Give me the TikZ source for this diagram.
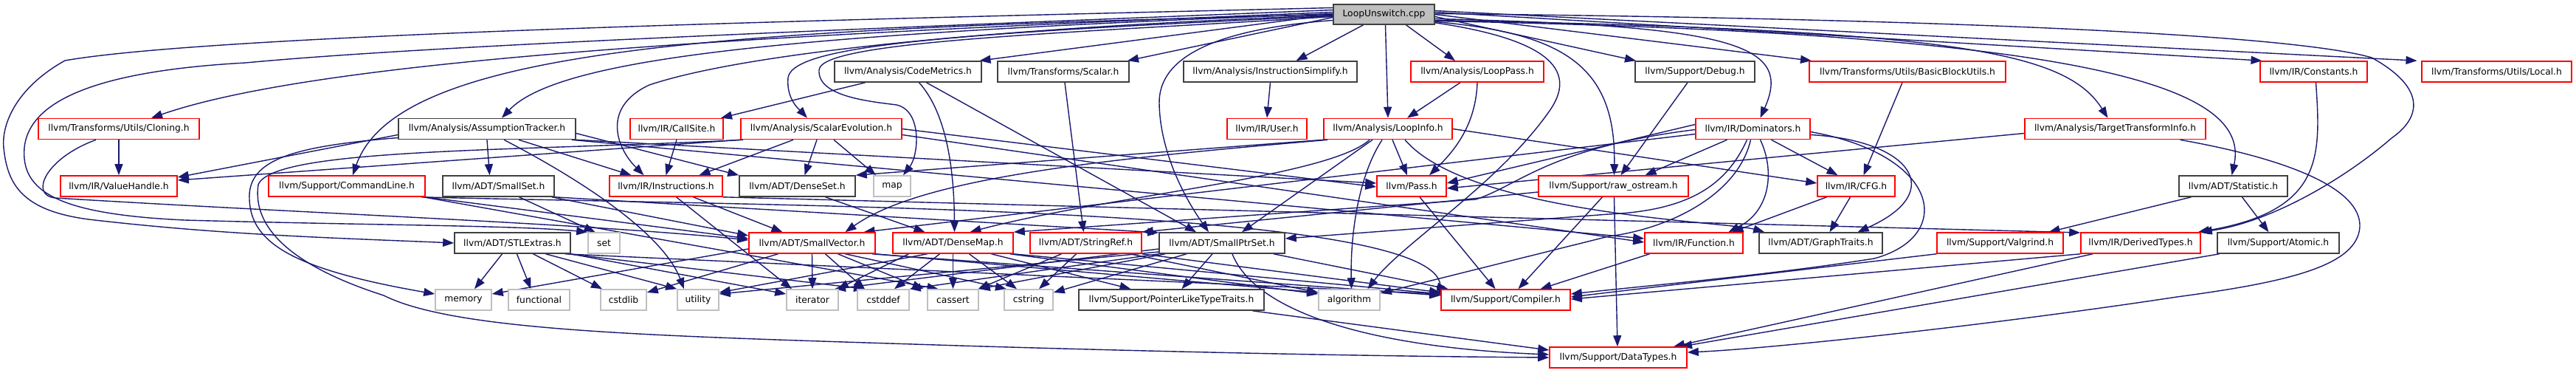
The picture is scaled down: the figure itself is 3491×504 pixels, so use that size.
\documentclass[tikz,border=0pt]{standalone}
\usepackage{fontspec}
\usetikzlibrary{arrows.meta}
\newfontfamily\dejavu{DejaVu Sans}
\newcommand\hdrfont{\dejavu\fontsize{12.3}{14}\selectfont}
\definecolor{edgeblue}{HTML}{191970}
\definecolor{boxgray}{HTML}{BFBFBF}
\definecolor{boxdark}{HTML}{404040}
\pgfdeclarelayer{background}
\pgfsetlayers{background,main}
\begin{document}
\begin{tikzpicture}[x=1pt,y=-1pt,
  hdr/.style={draw=red, fill=white, line width=1.6pt, minimum height=28pt, inner sep=0pt, font=\hdrfont},
  blk/.style={hdr, draw=boxdark},
  sys/.style={hdr, draw=boxgray},
  root/.style={hdr, draw=boxdark, fill=boxgray, minimum height=27pt},
  dep/.style={draw=edgeblue, line width=1.4pt, -{Triangle[length=15pt,width=11pt]}}]
\useasboundingbox (0,0) rectangle (3491,504);

\node[root, minimum width=137pt] (main) at (1875.5,19.5) {LoopUnswitch.cpp};

\node[blk, minimum width=199pt] (codemetrics) at (1230.5,97) {llvm/Analysis/CodeMetrics.h};
\node[blk, minimum width=178pt] (scalar) at (1441,97) {llvm/Transforms/Scalar.h};
\node[blk, minimum width=235pt] (instsimp) at (1721.5,97) {llvm/Analysis/InstructionSimplify.h};
\node[hdr, minimum width=180pt] (looppass) at (2002,97) {llvm/Analysis/LoopPass.h};
\node[blk, minimum width=162pt] (debug) at (2297,97) {llvm/Support/Debug.h};
\node[hdr, minimum width=266pt] (bbutils) at (2585,97) {llvm/Transforms/Utils/BasicBlockUtils.h};
\node[hdr, minimum width=145pt] (constants) at (3135.5,97) {llvm/IR/Constants.h};
\node[hdr, minimum width=203pt] (local) at (3383.5,97) {llvm/Transforms/Utils/Local.h};

\node[hdr, minimum width=218pt] (cloning) at (161,174.5) {llvm/Transforms/Utils/Cloning.h};
\node[blk, minimum width=240pt] (assump) at (660,174.5) {llvm/Analysis/AssumptionTracker.h};
\node[hdr, minimum width=126pt] (callsite) at (917,174.5) {llvm/IR/CallSite.h};
\node[hdr, minimum width=218pt] (scev) at (1113,174.5) {llvm/Analysis/ScalarEvolution.h};
\node[hdr, minimum width=108pt] (user) at (1717,174.5) {llvm/IR/User.h};
\node[hdr, minimum width=174pt] (loopinfo) at (1881,174.5) {llvm/Analysis/LoopInfo.h};
\node[hdr, minimum width=155pt] (dominators) at (2375.5,174.5) {llvm/IR/Dominators.h};
\node[hdr, minimum width=245pt] (tti) at (2866.5,174.5) {llvm/Analysis/TargetTransformInfo.h};

\node[hdr, minimum width=158pt] (valuehandle) at (161,252) {llvm/IR/ValueHandle.h};
\node[hdr, minimum width=212pt] (cmdline) at (470,252) {llvm/Support/CommandLine.h};
\node[blk, minimum width=151pt] (smallset) at (675.5,252) {llvm/ADT/SmallSet.h};
\node[hdr, minimum width=153pt] (instructions) at (902.5,252) {llvm/IR/Instructions.h};
\node[blk, minimum width=157pt] (denseset) at (1080.5,252) {llvm/ADT/DenseSet.h};
\node[sys, minimum width=50pt] (map) at (1209,252) {map};
\node[hdr, minimum width=94pt] (pass) at (1913,252) {llvm/Pass.h};
\node[hdr, minimum width=203pt] (rawostream) at (2186.5,252) {llvm/Support/raw\_ostream.h};
\node[hdr, minimum width=105pt] (cfg) at (2515.5,252) {llvm/IR/CFG.h};
\node[blk, minimum width=147pt] (statistic) at (3026.5,252) {llvm/ADT/Statistic.h};

\node[blk, minimum width=157pt] (stlextras) at (694.5,329) {llvm/ADT/STLExtras.h};
\node[sys, minimum width=43pt] (set) at (818.5,329) {set};
\node[hdr, minimum width=171pt] (smallvector) at (1100.5,329) {llvm/ADT/SmallVector.h};
\node[hdr, minimum width=163pt] (densemap) at (1291.5,329) {llvm/ADT/DenseMap.h};
\node[hdr, minimum width=151pt] (stringref) at (1471.5,329) {llvm/ADT/StringRef.h};
\node[blk, minimum width=170pt] (smallptrset) at (1656,329) {llvm/ADT/SmallPtrSet.h};
\node[hdr, minimum width=133pt] (function) at (2295.5,329) {llvm/IR/Function.h};
\node[blk, minimum width=167pt] (graphtraits) at (2467.5,329) {llvm/ADT/GraphTraits.h};
\node[hdr, minimum width=171pt] (valgrind) at (2710.5,329) {llvm/Support/Valgrind.h};
\node[hdr, minimum width=162pt] (derivedtypes) at (2901,329) {llvm/IR/DerivedTypes.h};
\node[blk, minimum width=165pt] (atomic) at (3087.5,329) {llvm/Support/Atomic.h};

\node[sys, minimum width=76pt] (memory) at (628,406) {memory};
\node[sys, minimum width=83pt] (functional) at (730.5,406) {functional};
\node[sys, minimum width=62pt] (cstdlib) at (845,406) {cstdlib};
\node[sys, minimum width=56pt] (utility) at (946,406) {utility};
\node[sys, minimum width=70pt] (iterator) at (1101,406) {iterator};
\node[sys, minimum width=70pt] (cstddef) at (1197,406) {cstddef};
\node[sys, minimum width=69pt] (cassert) at (1291.5,406) {cassert};
\node[sys, minimum width=66pt] (cstring) at (1394,406) {cstring};
\node[blk, minimum width=251pt] (ptrtraits) at (1587.5,406) {llvm/Support/PointerLikeTypeTraits.h};
\node[sys, minimum width=83pt] (algorithm) at (1828.5,406) {algorithm};
\node[hdr, minimum width=175pt] (compiler) at (2040.5,406) {llvm/Support/Compiler.h};

\node[hdr, minimum width=186pt] (datatypes) at (2193,484) {llvm/Support/DataTypes.h};

\begin{pgfonlayer}{background}
\fill[white] (0,0) rectangle (3491,504);
\draw[dep] (main.west) -- ([xshift=97pt]codemetrics.north);
\draw[dep] ([yshift=-4pt]main.west) -- ([xshift=87pt]scalar.north);
\draw[dep] ([xshift=-28pt]main.south) -- ([xshift=35pt]instsimp.north);
\draw[dep] ([xshift=2pt]main.south) -- (loopinfo.north);
\draw[dep] ([xshift=30pt]main.south) -- ([xshift=-30pt]looppass.north);
\draw[dep] ([yshift=-3pt]main.east) -- ([xshift=-80pt]debug.north);
\draw[dep] (main.east) -- ([xshift=-130pt]bbutils.north);
\draw[dep] ([yshift=3pt]main.east) -- ([xshift=-70pt]constants.north);
\draw[dep] ([yshift=5pt]main.east) -- ([xshift=-108pt]local.north);
\draw[dep] ([yshift=-6pt]main.east) .. controls (2350,35) and (2430,60) .. ([xshift=10pt]dominators.north);
\draw[dep] ([yshift=-8pt]main.east) .. controls (2650,40) and (2800,70) .. ([xshift=-10pt]tti.north);
\draw[dep] ([yshift=-9pt]main.east) .. controls (2850,45) and (3050,120) .. ([xshift=-2pt]statistic.north);
\draw[dep] ([yshift=1pt]main.east) .. controls (2600,25) and (3100,45) .. (3214,78) .. controls (3290,120) and (3280,160) .. (3241,187) .. controls (3180,240) and (3080,300) .. (derivedtypes.north east);
\draw[dep] ([yshift=-10pt]main.east) .. controls (2120,45) and (2190,90) .. ([xshift=1pt]rawostream.north);
\draw[dep] ([yshift=3pt]main.south east) .. controls (2110,55) and (2135,100) .. (2100,150) .. controls (2030,250) and (1900,330) .. ([xshift=25pt]algorithm.north);
\draw[dep] ([yshift=9pt]main.west) .. controls (1200,25) and (300,45) .. (88,82) .. controls (20,120) and (2,170) .. (5,200) .. controls (10,250) and (30,285) .. (120,297) .. controls (300,318) and (450,322) .. (stlextras.west);
\draw[dep] ([yshift=6pt]main.west) .. controls (1200,38) and (600,60) .. (333,85) .. controls (150,95) and (40,130) .. (33,200) .. controls (28,260) and (80,290) .. (250,298) .. controls (500,305) and (700,305) .. (set.north west);
\draw[dep] ([yshift=3pt]main.west) .. controls (1100,45) and (450,75) .. ([xshift=44pt]cloning.north);
\draw[dep] ([yshift=1pt]main.west) .. controls (1100,45) and (760,75) .. ([xshift=20pt]assump.north);
\draw[dep] (main.west) .. controls (1000,40) and (540,60) .. ([xshift=8pt]cmdline.north);
\draw[dep] ([yshift=-1pt]main.west) .. controls (1300,40) and (1000,75) .. (880,115) .. controls (815,145) and (835,200) .. ([xshift=-30pt]instructions.north);
\draw[dep] ([yshift=-2pt]main.west) .. controls (1300,45) and (1075,60) .. (1068,105) .. controls (1065,135) and (1085,150) .. ([xshift=-19pt]scev.north);
\draw[dep] ([yshift=-3pt]main.west) .. controls (1450,45) and (1110,55) .. (1110,95) .. controls (1108,130) and (1175,137) .. (1215,142) .. controls (1250,150) and (1245,210) .. ([xshift=15pt]map.north);
\draw[dep] ([yshift=-8pt]main.west) .. controls (1640,40) and (1570,80) .. (1571,140) .. controls (1572,200) and (1600,260) .. ([xshift=-18pt]smallptrset.north);

\draw[dep] ([xshift=-58pt]codemetrics.south) -- ([xshift=60pt]callsite.north);
\draw[dep] ([xshift=15pt]codemetrics.south) .. controls (1280,150) and (1293,220) .. ([xshift=2pt]densemap.north);
\draw[dep] ([xshift=25pt]codemetrics.south) -- ([xshift=-35pt]smallptrset.north);
\draw[dep] ([xshift=2pt]scalar.south) -- ([xshift=-3pt]stringref.north);
\draw[dep] (instsimp.south) -- (user.north);
\draw[dep] ([xshift=-23pt]looppass.south) -- ([xshift=26pt]loopinfo.north);
\draw[dep] (looppass.south) .. controls (2000,170) and (1970,205) .. ([xshift=24pt]pass.north);
\draw[dep] ([xshift=-10pt]debug.south) -- ([xshift=10pt]rawostream.north);
\draw[dep] ([xshift=-7pt]bbutils.south) -- ([xshift=10pt]cfg.north);
\draw[dep] ([xshift=3pt]constants.south) .. controls (3145,210) and (3150,285) .. ([xshift=-4pt]derivedtypes.north east);

\draw[dep] (cloning.south) -- (valuehandle.north);
\draw[dep] ([xshift=-31pt]cloning.south) .. controls (60,215) and (40,265) .. (75,268) .. controls (400,288) and (800,303) .. ([yshift=4pt]smallvector.west);
\draw[dep] (assump.south) -- ([xshift=-12pt]smallset.north);
\draw[dep] ([xshift=43pt]assump.south) -- ([xshift=-47pt]instructions.north);
\draw[dep] ([yshift=-8pt]assump.west) -- ([yshift=12pt]valuehandle.east);
\draw[dep] ([yshift=-12pt]assump.west) .. controls (400,198) and (335,215) .. (338,270) .. controls (340,330) and (400,365) .. ([yshift=8pt]memory.west);
\draw[dep] ([xshift=23pt]assump.south) .. controls (800,250) and (900,320) .. ([xshift=-19pt]utility.north);
\draw[dep] ([yshift=-6pt]assump.east) -- (denseset.north west);
\draw[dep] (assump.south east) -- ([yshift=4pt]pass.west);
\draw[dep] ([xshift=-6pt]assump.south east) -- ([yshift=6pt]function.west);
\draw[dep] (callsite.south) -- (instructions.north);
\draw[dep] ([xshift=-38pt]scev.south) -- ([xshift=45pt]instructions.north);
\draw[dep] ([xshift=-6pt]scev.south) -- ([xshift=10pt]denseset.north);
\draw[dep] ([xshift=17pt]scev.south) -- ([xshift=-22pt]map.north);
\draw[dep] (scev.south west) -- ([yshift=8pt]valuehandle.east);
\draw[dep] ([xshift=4pt]scev.south west) .. controls (700,205) and (370,200) .. (350,250) .. controls (340,320) and (420,368) .. (520,400) .. controls (620,450) and (900,455) .. (1300,468) .. controls (1700,480) and (1950,483) .. (datatypes.west);
\draw[dep] (scev.east) -- ([yshift=-1pt]pass.west);
\draw[dep] ([yshift=-8pt]scev.east) -- ([yshift=1pt]function.west);

\draw[dep] ([xshift=6pt]loopinfo.south) -- ([xshift=-6pt]pass.north);
\draw[dep] ([xshift=-8pt]loopinfo.south) .. controls (1840,240) and (1830,320) .. ([xshift=3pt]algorithm.north);
\draw[dep] ([xshift=-21pt]loopinfo.south) -- ([xshift=27pt]smallptrset.north);
\draw[dep] ([xshift=-25pt]loopinfo.south) .. controls (1800,240) and (1500,265) .. ([xshift=23pt]densemap.north);
\draw[dep] ([xshift=6pt]loopinfo.south west) .. controls (1500,215) and (1250,240) .. ([xshift=45pt]smallvector.north);
\draw[dep] (loopinfo.south west) -- (denseset.north east);
\draw[dep] ([xshift=23pt]loopinfo.south) .. controls (1990,290) and (2340,300) .. ([xshift=8pt]graphtraits.north west);
\draw[dep] (loopinfo.east) -- ([yshift=4pt]cfg.west);

\draw[dep] ([xshift=-35pt]dominators.south) -- ([xshift=43pt]rawostream.north);
\draw[dep] ([xshift=25pt]dominators.south) -- ([xshift=-25pt]cfg.north);
\draw[dep] ([xshift=10pt]dominators.south) .. controls (2405,230) and (2400,285) .. ([xshift=47pt]function.north);
\draw[dep] ([xshift=-8pt]dominators.south) .. controls (2340,250) and (2290,285) .. (2180,290) -- ([yshift=6pt]smallptrset.east);
\draw[dep] ([xshift=-3pt]dominators.south) .. controls (2355,265) and (2260,310) .. (2180,320) -- ([yshift=9pt]algorithm.east);
\draw[dep] ([yshift=6pt]dominators.west) -- ([yshift=4pt]pass.east);
\draw[dep] ([yshift=-1pt]dominators.west) .. controls (2100,200) and (2060,250) .. (2000,270) -- (densemap.north east);
\draw[dep] ([yshift=-7pt]dominators.west) -- ([xshift=70pt]smallvector.north);
\draw[dep] ([yshift=-8pt]dominators.east) .. controls (2590,190) and (2640,260) .. ([xshift=50pt]graphtraits.north);
\draw[dep] ([yshift=-4pt]dominators.east) .. controls (2630,210) and (2650,320) .. (2540,350) .. controls (2400,372) and (2250,385) .. ([yshift=8pt]compiler.east);
\draw[dep] ([xshift=-40pt]cfg.south) -- ([xshift=52pt]function.north);
\draw[dep] ([xshift=-8pt]cfg.south) -- ([xshift=12pt]graphtraits.north);
\draw[dep] ([yshift=-6pt]tti.west) -- ([yshift=-3pt]pass.east);
\draw[dep] ([xshift=88pt]tti.south) .. controls (3100,215) and (3200,255) .. (3198,307) .. controls (3195,360) and (3100,382) .. (2950,402) .. controls (2700,440) and (2400,472) .. ([yshift=7pt]datatypes.east);

\draw[dep] ([xshift=1pt]rawostream.south) -- ([xshift=-1pt]datatypes.north);
\draw[dep] ([xshift=-15pt]rawostream.south) -- ([xshift=17pt]compiler.north);
\draw[dep] ([yshift=-8pt]rawostream.west) -- (stringref.north east);
\draw[dep] ([xshift=11pt]pass.south) -- ([xshift=-14pt]compiler.north);
\draw[dep] ([xshift=-57pt]statistic.south) -- ([xshift=66pt]valgrind.north);
\draw[dep] ([xshift=12pt]statistic.south) -- ([xshift=-13pt]atomic.north);
\draw[dep] ([xshift=-60pt]function.south) -- ([xshift=47pt]compiler.north);
\draw[dep] (valgrind.south west) -- ([yshift=4pt]compiler.east);
\draw[dep] (derivedtypes.south west) -- ([yshift=1pt]compiler.east);
\draw[dep] ([xshift=-65pt]derivedtypes.south) -- ([xshift=75pt]datatypes.north);
\draw[dep] ([xshift=-80pt]atomic.south) -- ([xshift=85pt]datatypes.north);
\draw[dep] ([xshift=110pt]ptrtraits.south) -- ([yshift=10pt]datatypes.west);

\draw[dep] ([xshift=-13pt]smallptrset.south) -- ([xshift=14pt]ptrtraits.north);
\draw[dep] ([xshift=14pt]smallptrset.south) .. controls (1700,420) and (1850,470) .. ([yshift=4pt]datatypes.west);
\draw[dep] ([xshift=70pt]smallptrset.south) -- ([xshift=-78pt]compiler.north);
\draw[dep] ([xshift=-48pt]smallptrset.south) -- ([yshift=10pt]cstring.east);
\draw[dep] ([xshift=-77pt]smallptrset.south) -- (cassert.north east);
\draw[dep] (smallptrset.south west) -- (cstddef.north east);
\draw[dep] ([yshift=-8pt]smallptrset.west) -- ([xshift=30pt]iterator.north);
\draw[dep] ([yshift=-12pt]smallptrset.west) -- ([yshift=8pt]utility.east);
\draw[dep] ([xshift=-33pt]stringref.south) -- ([xshift=34pt]cassert.north);
\draw[dep] ([xshift=-13pt]stringref.south) -- ([xshift=14pt]cstring.north);
\draw[dep] ([xshift=60pt]stringref.south) -- ([yshift=10pt]algorithm.west);
\draw[dep] (stringref.south east) -- ([yshift=10pt]compiler.west);

\draw[dep] ([xshift=-60pt]densemap.south) -- ([xshift=34pt]iterator.north);
\draw[dep] ([xshift=-35pt]densemap.south) -- ([yshift=10pt]utility.east);
\draw[dep] ([xshift=-18pt]densemap.south) -- ([xshift=15pt]cstddef.north);
\draw[dep] (densemap.south) -- (cassert.north);
\draw[dep] ([xshift=22pt]densemap.south) -- ([xshift=-16pt]cstring.north);
\draw[dep] ([xshift=52pt]densemap.south) -- ([xshift=-55pt]ptrtraits.north);
\draw[dep] ([xshift=-5pt]densemap.south east) -- ([yshift=8pt]algorithm.west);
\draw[dep] (densemap.south east) -- ([yshift=8pt]compiler.west);

\draw[dep] (smallvector.south) -- (iterator.north);
\draw[dep] ([xshift=18pt]smallvector.south) -- ([xshift=-25pt]cstddef.north);
\draw[dep] ([xshift=35pt]smallvector.south) -- ([xshift=-40pt]cassert.north);
\draw[dep] ([xshift=45pt]smallvector.south) -- ([xshift=-30pt]cstring.north);
\draw[dep] (smallvector.south east) -- ([yshift=10pt]algorithm.west);
\draw[dep] ([xshift=-5pt]smallvector.south east) -- ([yshift=6pt]compiler.west);
\draw[dep] ([xshift=-46pt]smallvector.south) -- ([yshift=10pt]cstdlib.east);
\draw[dep] ([yshift=-8pt]smallvector.west) -- ([yshift=8pt]memory.east);

\draw[dep] ([xshift=37pt]instructions.south) -- ([xshift=-40pt]smallvector.north);
\draw[dep] ([xshift=14pt]instructions.south) -- ([xshift=-28pt]iterator.north);
\draw[dep] (instructions.south east) -- ([yshift=14pt]derivedtypes.west);
\draw[dep] ([xshift=38pt]denseset.south) -- ([xshift=-38pt]densemap.north);
\draw[dep] ([xshift=28pt]smallset.south) -- ([xshift=-12pt]set.north);
\draw[dep] ([xshift=-4pt]smallset.south east) -- ([yshift=10pt]smallvector.west);
\draw[dep] (smallset.south east) -- ([yshift=14pt]smallptrset.west);
\draw[dep] (cmdline.south east) -- ([yshift=6pt]smallvector.west);
\draw[dep] ([xshift=-3pt]cmdline.south east) -- ([xshift=-20pt]cassert.north);
\draw[dep] ([xshift=-6pt]cmdline.south east) .. controls (1100,280) and (1950,280) .. ([yshift=4pt]compiler.west);

\draw[dep] ([xshift=-14pt]stlextras.south) -- ([xshift=15pt]memory.north);
\draw[dep] ([xshift=6pt]stlextras.south) -- ([xshift=-11pt]functional.north);
\draw[dep] ([xshift=28pt]stlextras.south) -- ([xshift=-29pt]cstdlib.north);
\draw[dep] ([xshift=45pt]stlextras.south) -- (utility.north west);
\draw[dep] (stlextras.south east) -- ([yshift=8pt]iterator.west);
\draw[dep] ([xshift=-4pt]stlextras.south east) -- ([xshift=-25pt]cstddef.north);
\draw[dep] ([xshift=-8pt]stlextras.south east) -- ([yshift=8pt]compiler.west);
\end{pgfonlayer}
\end{tikzpicture}
\end{document}
